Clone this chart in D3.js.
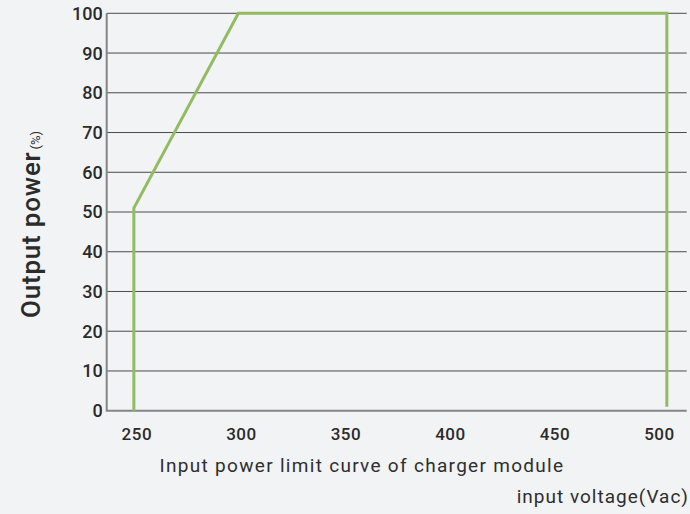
<!DOCTYPE html>
<html><head><meta charset="utf-8">
<script src="https://cdn.jsdelivr.net/npm/d3@7"></script>
<style>
html,body{margin:0;padding:0;background:#f2f3f5;}
svg{display:block;}
text{font-family:Roboto,"DejaVu Sans",sans-serif;fill:#2b2b2b;}
</style></head>
<body>
<svg id="c" width="690" height="514"></svg>
<script>
const voltage = [250, 250, 300, 505, 505];
const power   = [0, 51, 100, 100, 1];
const xTicks = [250, 300, 350, 400, 450, 500];
const yTicks = [0, 10, 20, 30, 40, 50, 60, 70, 80, 90, 100];
const chartTitle = "Input power limit curve of charger module";
const xTitle = "input voltage(Vac)";
const yTitle = "Output power";
const yUnit = "(%)";

const svg = d3.select("#c");
const L = 106.7, R = 686.7, T = 13.3, B = 410.7;
const x = d3.scaleLinear().domain([237, 514.5]).range([L, R]);
const y = d3.scaleLinear().domain([0, 100]).range([B, T]);

// gridlines
svg.append("g").selectAll("line").data(yTicks.filter(d => d > 0)).join("line")
  .attr("x1", L).attr("x2", R)
  .attr("y1", d => y(d)).attr("y2", d => y(d))
  .attr("stroke", "#4a4a4a").attr("stroke-width", 1);

// y axis labels
svg.append("g").selectAll("text").data(yTicks).join("text")
  .attr("x", L - 4).attr("y", d => y(d)).attr("dy", "0.36em")
  .attr("text-anchor", "end")
  .style("font-size", "18px").style("font-weight", 500)
  .text(d => d);

// x axis labels
svg.append("g").selectAll("text").data(xTicks).join("text")
  .attr("x", d => x(d) + 3).attr("y", 440)
  .attr("text-anchor", "middle")
  .style("font-size", "17px").style("font-weight", 500)
  .style("letter-spacing", "0.5px")
  .text(d => d);

// axes lines
svg.append("path")
  .attr("d", `M${L},${T}V${B}H${R}`)
  .attr("fill", "none").attr("stroke", "#858585").attr("stroke-width", 2);

// data line
const line = d3.line().x(d => x(d[0])).y(d => y(d[1]));
svg.append("path")
  .datum(voltage.map((v, i) => [v, power[i]]))
  .attr("d", line)
  .attr("fill", "none").attr("stroke", "#93bb62").attr("stroke-width", 3)
  .attr("stroke-linejoin", "miter");

// titles
svg.append("text").attr("x", 362).attr("y", 472).attr("text-anchor", "middle")
  .style("font-size", "19px").style("font-weight", 400).style("letter-spacing", "1.3px")
  .style("fill", "#2e2e2e").text(chartTitle);
svg.append("text").attr("x", 689).attr("y", 503).attr("text-anchor", "end")
  .style("font-size", "19px").style("font-weight", 400).style("letter-spacing", "1px")
  .style("fill", "#2e2e2e").text(xTitle);

const yt = svg.append("text").attr("transform", "translate(40,318) rotate(-90)")
  .attr("text-anchor", "start");
yt.append("tspan").style("font-size", "26px").style("font-weight", 500)
  .style("letter-spacing", "0.8px").text(yTitle);
yt.append("tspan").style("font-size", "13px").attr("dx", 2).text(yUnit);
</script>
</body></html>
